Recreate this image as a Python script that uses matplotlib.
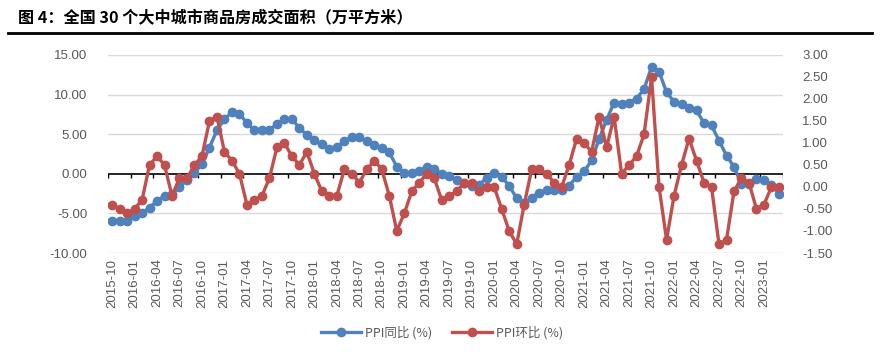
import numpy as np
import pandas as pd
import matplotlib.pyplot as plt

plt.rcParams['font.family'] = ['Liberation Sans', 'Noto Sans CJK SC', 'DejaVu Sans']

# monthly, 2015-10 .. 2023-03
months = pd.period_range('2015-10', '2023-03', freq='M').strftime('%Y-%m').tolist()

# PPI 同比 (%), left axis
ppi_yoy = [-5.9, -5.9, -5.9,
           -5.3, -4.9, -4.3, -3.4, -2.8, -2.6, -1.7, -0.8, 0.1, 1.2, 3.3, 5.5,
           6.9, 7.8, 7.6, 6.4, 5.5, 5.5, 5.5, 6.3, 6.9, 6.9, 5.8, 4.9,
           4.3, 3.7, 3.1, 3.4, 4.1, 4.7, 4.6, 4.1, 3.6, 3.3, 2.7, 0.9,
           0.1, 0.1, 0.4, 0.9, 0.6, 0.0, -0.3, -0.8, -1.2, -1.6, -1.4, -0.5,
           0.1, -0.4, -1.5, -3.1, -3.7, -3.0, -2.4, -2.0, -2.1, -2.1, -1.5, -0.4,
           0.3, 1.7, 4.4, 6.8, 9.0, 8.8, 9.0, 9.5, 10.7, 13.5, 12.9, 10.3,
           9.1, 8.8, 8.3, 8.0, 6.4, 6.1, 4.2, 2.3, 0.9, -1.3, -1.3, -0.7,
           -0.8, -1.4, -2.5]

# PPI 环比 (%), right axis
ppi_mom = [-0.4, -0.5, -0.6,
           -0.5, -0.3, 0.5, 0.7, 0.5, -0.2, 0.2, 0.2, 0.5, 0.7, 1.5, 1.6,
           0.8, 0.6, 0.3, -0.4, -0.3, -0.2, 0.2, 0.9, 1.0, 0.7, 0.5, 0.8,
           0.3, -0.1, -0.2, -0.2, 0.4, 0.3, 0.1, 0.4, 0.6, 0.4, -0.2, -1.0,
           -0.6, -0.1, 0.1, 0.3, 0.2, -0.3, -0.2, -0.1, 0.1, 0.1, -0.1, 0.0,
           0.0, -0.5, -1.0, -1.3, -0.4, 0.4, 0.4, 0.3, 0.1, 0.0, 0.5, 1.1,
           1.0, 0.8, 1.6, 0.9, 1.6, 0.3, 0.5, 0.7, 1.2, 2.5, 0.0, -1.2,
           -0.2, 0.5, 1.1, 0.6, 0.1, 0.0, -1.3, -1.2, -0.1, 0.2, 0.1, -0.5,
           -0.4, 0.0, 0.0]

left_ticks = [-10, -5, 0, 5, 10, 15]
right_ticks = [-1.5, -1.0, -0.5, 0.0, 0.5, 1.0, 1.5, 2.0, 2.5, 3.0]

blue = '#4F81BD'
red = '#C0504D'
grey = '#595959'

fig = plt.figure(figsize=(8.8, 3.6), dpi=100)
ax = fig.add_axes([108.3 / 880, 1 - 253 / 360, 674.4 / 880, 198 / 360])
ax2 = ax.twinx()

x = np.arange(len(months))

ax.set_xlim(-0.5, len(months) - 0.5)
ax.set_ylim(-10, 15)
ax.set_yticks(left_ticks)
ax.set_yticklabels([f'{v:.2f}' for v in left_ticks])
for v in left_ticks:
    if v != 0:
        ax.axhline(v, color='#D9D9D9', lw=1.0, zorder=0)
ax.axhline(0, color='black', lw=1.2, zorder=1)
ax.vlines(np.arange(-0.5, len(months), 3), -0.55, 0, color='black', lw=1.0, zorder=1)

ax.plot(x, ppi_yoy, '-o', color=blue, lw=2.4, ms=6, zorder=3, label='PPI同比 (%)')

ax2.set_ylim(-1.5, 3.0)
ax2.set_yticks(right_ticks)
ax2.set_yticklabels([f'{v:.2f}' for v in right_ticks], ha='left')
ax2.plot(x, ppi_mom, '-o', color=red, lw=2.4, ms=6, zorder=3, label='PPI环比 (%)')

ax.set_xticks(x[::3])
ax.set_xticklabels(months[::3], rotation=90)
ax.tick_params(axis='x', length=0, pad=4, labelsize=9.5, labelcolor=grey)
ax.tick_params(axis='y', length=0, pad=15, labelsize=9.5, labelcolor=grey)
ax2.tick_params(axis='y', length=0, pad=14, labelsize=9.5, labelcolor=grey)

for a in (ax, ax2):
    for s in a.spines.values():
        s.set_visible(False)

h1, l1 = ax.get_legend_handles_labels()
h2, l2 = ax2.get_legend_handles_labels()
fig.legend(h1 + h2, l1 + l2, loc='center', bbox_to_anchor=(442 / 880, 1 - 333 / 360),
           ncol=2, frameon=False, labelcolor=grey, handlelength=3.2,
           columnspacing=1.6, handletextpad=0.3,
           prop={'family': ['Noto Sans CJK SC', 'DejaVu Sans'], 'size': 9})

fig.text(18 / 880, 1 - 18 / 360, '图 4：全国 30 个大中城市商品房成交面积（万平方米）',
         fontsize=11.6, fontweight='bold', va='center', ha='left',
         family=['Noto Sans CJK SC', 'DejaVu Sans'])
fig.add_artist(plt.Line2D([8 / 880, 872 / 880], [1 - 32.5 / 360, 1 - 32.5 / 360],
                          color='black', lw=2.0))

fig.savefig('out.png', dpi=100)
